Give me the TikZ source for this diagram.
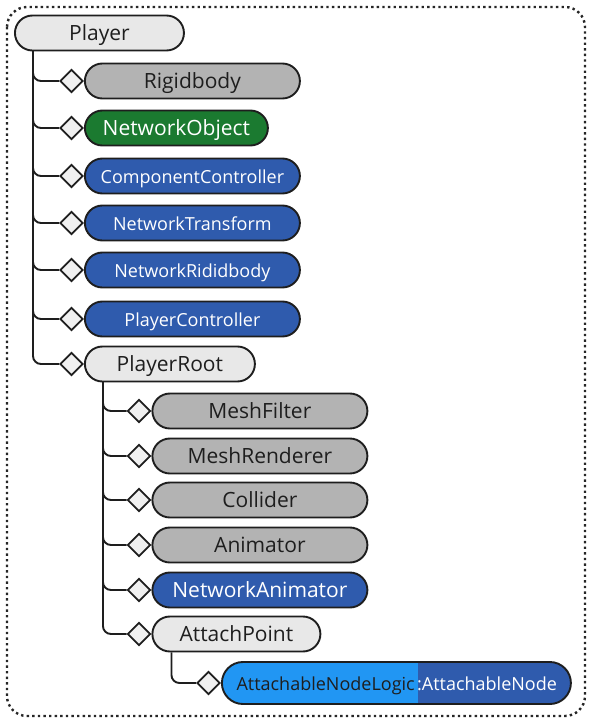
\documentclass[tikz,border=0pt]{standalone}
\usepackage{fontspec}
\setmainfont{Open Sans}
\usetikzlibrary{shapes.geometric}
\definecolor{lgray}{HTML}{E8E8E8}
\definecolor{mgray}{HTML}{B3B3B3}
\definecolor{ngreen}{HTML}{1B7A30}
\definecolor{nblue}{HTML}{2F5BAD}
\definecolor{lblue}{HTML}{2196F3}
\definecolor{edge}{HTML}{1E1E1E}
\tikzset{
  box/.style={draw=edge, line width=1.9pt, rounded corners=17.5pt, minimum height=35pt,
    inner sep=0pt, text height=16pt, text depth=1pt,
    font=\fontsize{21}{24}\selectfont, text=edge, anchor=west},
  litebox/.style={box, fill=lgray},
  greybox/.style={box, fill=mgray, minimum width=215pt},
  greenbox/.style={box, fill=ngreen, text=white},
  bluebox/.style={box, fill=nblue, text=white, minimum width=215pt, font=\fontsize{18}{21}\selectfont},
  diam/.style={diamond, draw=edge, fill=white!94!black, line width=1.9pt, minimum width=23pt, minimum height=23pt, inner sep=0pt},
  conn/.style={draw=edge, line width=1.9pt, rounded corners=8pt},
  frame/.style={line width=2.4pt, dash pattern=on 2.4pt off 3.2pt, rounded corners=20pt, draw=black!85},
  splittext/.style={inner sep=0pt, text height=16pt, text depth=1pt, font=\fontsize{18}{21}\selectfont}
}
\begin{document}
\begin{tikzpicture}[x=1pt,y=-1pt]
\useasboundingbox (0,0) rectangle (593,723);
\draw[frame] (7,7) rectangle (585,716);

\node[litebox, minimum width=169pt] (pl) at (14,33) {Player};

\node[diam] (d1) at (71.5,81) {};
\node[greybox] (rb) at (d1.east) {Rigidbody};
\node[diam] (d2) at (71.5,128) {};
\node[greenbox, minimum width=183pt] (no) at (d2.east) {NetworkObject};
\node[diam] (d3) at (71.5,176) {};
\node[bluebox] (cc) at (d3.east) {ComponentController};
\node[diam] (d4) at (71.5,223) {};
\node[bluebox] (nt) at (d4.east) {NetworkTransform};
\node[diam] (d5) at (71.5,270) {};
\node[bluebox] (nr) at (d5.east) {NetworkRididbody};
\node[diam] (d6) at (71.5,319) {};
\node[bluebox] (pc) at (d6.east) {PlayerController};
\node[diam] (d7) at (71.5,364) {};
\node[litebox, minimum width=170pt] (pr) at (d7.east) {PlayerRoot};

\foreach \d in {d1,d2,d3,d4,d5,d6,d7}
  \draw[conn] ([xshift=19pt]pl.south west) |- (\d.west);

\node[diam] (e1) at (139,411) {};
\node[greybox] (mf) at (e1.east) {MeshFilter};
\node[diam] (e2) at (139,456) {};
\node[greybox] (mr) at (e2.east) {MeshRenderer};
\node[diam] (e3) at (139,500) {};
\node[greybox] (co) at (e3.east) {Collider};
\node[diam] (e4) at (139,545) {};
\node[greybox] (am) at (e4.east) {Animator};
\node[diam] (e5) at (139,590) {};
\node[box, fill=nblue, text=white, minimum width=215pt] (na) at (e5.east) {NetworkAnimator};
\node[diam] (e6) at (139,634) {};
\node[litebox, minimum width=168pt] (ap) at (e6.east) {AttachPoint};

\foreach \d in {e1,e2,e3,e4,e5,e6}
  \draw[conn] ([xshift=19pt]pr.south west) |- (\d.west);

\node[diam] (f1) at (208.5,683) {};
\node[box, minimum width=349pt, minimum height=42pt, rounded corners=21pt,
  path picture={
    \fill[lblue, sharp corners] (path picture bounding box.south west) rectangle ([xshift=196pt]path picture bounding box.north west);
    \fill[nblue, sharp corners] ([xshift=196pt]path picture bounding box.south west) rectangle (path picture bounding box.north east);
  }] (an) at (f1.east) {};
\node[splittext, anchor=base east, text=edge] (anl) at ([xshift=194pt, yshift=-7.5pt]an.west) {AttachableNodeLogic};
\node[splittext, anchor=base west, text=white] (anr) at ([xshift=196pt, yshift=-7.5pt]an.west) {:AttachableNode};
\draw[conn] ([xshift=20pt]ap.south west) |- (f1.west);
\end{tikzpicture}
\end{document}
